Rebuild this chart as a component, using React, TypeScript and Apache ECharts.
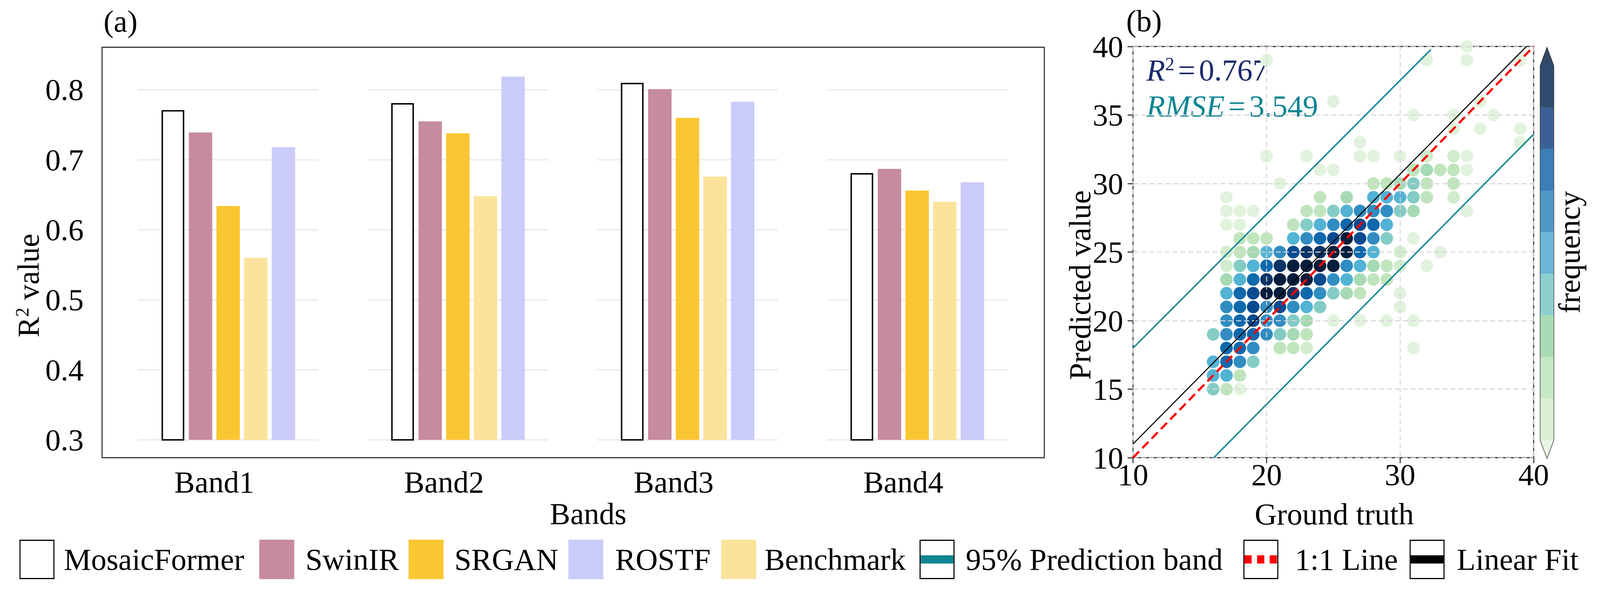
import React, { useEffect, useRef } from "react";
import * as echarts from "echarts";

// ---------------- data: panel (a) ----------------
const BANDS = ["Band1", "Band2", "Band3", "Band4"];
const MOSAICFORMER = [0.770, 0.780, 0.809, 0.680];
const SWINIR = [0.739, 0.755, 0.801, 0.687];
const SRGAN = [0.634, 0.738, 0.760, 0.656];
const BENCHMARK = [0.560, 0.648, 0.676, 0.640];
const ROSTF = [0.718, 0.819, 0.783, 0.668];
const R2_TICKS = [0.3, 0.4, 0.5, 0.6, 0.7, 0.8];
const BAR_BASE = 0.3;

// ---------------- data: panel (b) ----------------
const GT_TICKS = [10, 20, 30, 40];
const PRED_TICKS = [10, 15, 20, 25, 30, 35, 40];
// points [ground truth, predicted], grouped by frequency class (0 = lowest)
const DOTS_L0 = [[35,40],[20,39],[32,39],[35,39],[39,39],[25,36],[36,36],[31,35],[34,35],[37,35],[34,34],[36,34],[39,34],[27,33],[39,33],[20,32],[23,32],[27,32],[28,32],[30,32],[35,32],[24,31],[25,31],[35,31],[21,30],[17,29],[17,28],[18,28],[19,28],[35,28],[17,27],[18,27],[31,26],[33,25],[32,24],[30,22],[30,21],[25,20],[27,20],[29,20],[31,20],[31,18],[18,15]];
const DOTS_L1 = [[32,32],[34,32],[34,29],[17,25],[30,25],[17,24],[30,24],[23,18]];
const DOTS_L2 = [[31,31],[33,31],[34,31],[28,30],[29,30],[32,30],[34,30],[24,29],[32,29],[23,28],[24,28],[22,27],[18,26],[19,26],[20,26],[18,25],[29,24],[28,23],[29,23],[27,22],[23,19],[21,18],[22,18],[18,16],[17,15]];
const DOTS_L3 = [[32,31],[30,30],[26,29],[31,28],[19,25],[28,24],[17,23],[27,23],[26,22],[23,20],[22,19]];
const DOTS_L4 = [[31,30],[31,29],[25,28],[30,28],[23,27],[29,26],[18,24],[25,22],[24,21],[22,20],[16,19],[21,19],[19,17],[16,15]];
const DOTS_L5 = [[28,29],[29,29],[30,29],[26,28],[24,27],[29,27],[22,26],[20,25],[28,25],[19,24],[27,24],[18,23],[26,23],[17,22],[23,21],[16,17],[16,16],[17,16]];
const DOTS_L6 = [[27,28],[28,28],[29,28],[25,27],[23,26],[28,26],[21,25],[26,24],[25,23],[24,22],[17,21],[20,21],[22,21],[17,20],[20,20],[21,20],[17,19],[20,19],[19,18],[18,17]];
const DOTS_L7 = [[26,27],[28,27],[24,26],[27,25],[20,24],[19,23],[18,22],[23,22],[18,21],[18,20],[18,19],[19,19],[17,18],[18,18],[17,17]];
const DOTS_L8 = [[27,27],[25,26],[27,26],[22,25],[24,23],[19,22],[19,21],[21,21],[19,20]];
const DOTS_L9 = [[24,25],[23,25],[21,24],[20,23],[22,22]];
const DOTS_L10 = [[26,26],[25,25],[26,25],[22,24],[23,24],[24,24],[25,24],[21,23],[22,23],[23,23],[20,22],[21,22]];

const ONE_TO_ONE = [[10, 10], [40, 40]];
const FIT_LINE = [[10, 11.0], [39.46, 40]];
const BAND_UPPER = [[10, 18.0], [32.3, 39.77]];
const BAND_LOWER = [[16.05, 10], [40, 33.6]];
const R2_VALUE = "0.767";
const RMSE_VALUE = "3.549";

// ---------------- styles / layout (reference frame 4437 x 1539) ----------------
const REF_W = 4437;
const REF_H = 1539;
const FONT = '"Liberation Serif", "Times New Roman", serif';
const C_SWINIR = "#c68b9f";
const C_SRGAN = "#fac632";
const C_BENCH = "#fbe39b";
const C_ROSTF = "#cbcbfa";
const TEAL = "#0f8593";
const NAVY = "#1b2a6b";
const LEVEL_COLORS = ["#e2f3dd", "#d2edcd", "#c0e5bd", "#a6dab4", "#83ccc5", "#53b3d5", "#318dc1", "#0e69ad", "#0a4a8f", "#0a3366", "#061e3b"];
const COLORBAR_COLORS = ["#2f4864", "#2f4b6e", "#3a6096", "#3c7fb8", "#4f98c6", "#6ab6d8", "#8ecfcf", "#a9dcb5", "#c6e8c2", "#dbf0d6", "#eaf6e6"];

const BAR_PITCH = 0.1203;
const BAR_WIDTH = 0.102;
const GRID_SEG_HALF = 0.393;
const A_X_MIN = -0.489;
const A_X_MAX = 3.614;
const A_Y_MIN = 0.2745;
const A_Y_MAX = 0.8608;

function buildOption(sx: number, sy: number) {
  const s = Math.min(sx, sy);
  const X = (v: number) => v * sx;
  const Y = (v: number) => v * sy;
  const F = (v: number) => v * s;
  const FS = F(85);
  const labelStyle = { fontSize: FS, fontFamily: FONT, color: "#000" };

  const barSeries = (name: string, values: number[], k: number, fill: string, outlined: boolean) => ({
    type: "custom",
    name,
    xAxisIndex: 0,
    yAxisIndex: 0,
    z: 3,
    silent: true,
    data: values.map((v, i) => [i + (k - 1.5) * BAR_PITCH, v]),
    renderItem: (_p: any, api: any) => {
      const xv = api.value(0);
      const yv = api.value(1);
      const p0 = api.coord([xv, BAR_BASE]);
      const p1 = api.coord([xv, yv]);
      const w = api.size([BAR_WIDTH, 0])[0];
      if (outlined) {
        const ow = w - F(6);
        return {
          type: "rect",
          shape: { x: p0[0] - ow / 2, y: p1[1], width: ow, height: p0[1] - p1[1] },
          style: { fill: "#ffffff", stroke: "#000000", lineWidth: F(4) },
        };
      }
      return {
        type: "rect",
        shape: { x: p0[0] - w / 2, y: p1[1], width: w, height: p0[1] - p1[1] },
        style: { fill },
      };
    },
  });

  const lineSeries = (data: number[][], color: string, width: number, dash?: number[]) => ({
    type: "line",
    xAxisIndex: 1,
    yAxisIndex: 1,
    data,
    symbol: "none",
    silent: true,
    clip: true,
    z: 5,
    lineStyle: { color, width: F(width), type: dash ? dash.map(F) : "solid", cap: "butt" },
  });

  const txt = (x: number, y: number, text: string, extra: any = {}, rot = 0) => ({
    type: "text",
    x: X(x),
    y: Y(y),
    rotation: rot,
    style: {
      text,
      fill: "#000",
      font: `${FS}px ${FONT}`,
      fontSize: FS,
      fontFamily: FONT,
      textAlign: "center",
      textVerticalAlign: "middle",
      align: "center",
      verticalAlign: "middle",
      ...extra,
    },
  });
  const rich = (fill: string, italic: boolean) => ({
    m: { fontSize: FS, fontFamily: FONT, lineHeight: FS, fill, fontStyle: italic ? "italic" : "normal" },
    u: { fontSize: FS, fontFamily: FONT, lineHeight: FS, fill },
    s: { fontSize: F(52), fontFamily: FONT, lineHeight: F(50), verticalAlign: "top", fill },
    e: { fontSize: FS, fontFamily: FONT, lineHeight: FS, fill, padding: [0, F(10), 0, F(10)] },
  });

  const g: any[] = [];
  g.push(txt(287, 54, "(a)", { textAlign: "left", align: "left" }));
  g.push(txt(3123, 53, "(b)", { textAlign: "left", align: "left" }));
  g.push(txt(1631, 1315, "Bands"));
  g.push(txt(3700, 1316, "Ground truth"));
  g.push(txt(78, 731, "{u|R}{s|2}{u| value}", { rich: rich("#000", false) }, Math.PI / 2));
  g.push(txt(2995, 730, "Predicted value", {}, Math.PI / 2));
  g.push(txt(4352, 646, "frequency", {}, Math.PI / 2));
  g.push(txt(3179, 179, `{m|R}{s|2}{e|=}{u|${R2_VALUE}}`, { textAlign: "left", align: "left", rich: rich(NAVY, true) }));
  g.push(txt(3179, 271, `{m|RMSE}{e|=}{u|${RMSE_VALUE}}`, { textAlign: "left", align: "left", rich: rich(TEAL, true) }));

  // colorbar
  const cbX = X(4271), cbW = X(38), cbTop = Y(121), cbBot = Y(1174), triH = Y(47);
  const segTop = cbTop + triH, segBot = cbBot - triH;
  const nSeg = COLORBAR_COLORS.length - 2;
  const segH = (segBot - segTop) / nSeg;
  g.push({ type: "polygon", shape: { points: [[cbX, segTop], [cbX + cbW, segTop], [cbX + cbW / 2, cbTop]] }, style: { fill: COLORBAR_COLORS[0] } });
  for (let i = 0; i < nSeg; i++) {
    g.push({ type: "rect", shape: { x: cbX, y: segTop + i * segH, width: cbW, height: segH + 0.5 }, style: { fill: COLORBAR_COLORS[i + 1] } });
  }
  g.push({ type: "polygon", shape: { points: [[cbX, segBot], [cbX + cbW, segBot], [cbX + cbW / 2, cbBot]] }, style: { fill: COLORBAR_COLORS[COLORBAR_COLORS.length - 1] } });
  g.push({
    type: "polygon",
    shape: { points: [[cbX + cbW / 2, cbTop], [cbX + cbW, segTop], [cbX + cbW, segBot], [cbX + cbW / 2, cbBot], [cbX, segBot], [cbX, segTop]] },
    style: { fill: "none", stroke: "#333", lineWidth: F(1.5) },
  });

  // legend
  const items = [
    { label: "MosaicFormer", kind: "outline" },
    { label: "SwinIR", kind: "patch", color: C_SWINIR },
    { label: "SRGAN", kind: "patch", color: C_SRGAN },
    { label: "ROSTF", kind: "patch", color: C_ROSTF },
    { label: "Benchmark", kind: "patch", color: C_BENCH },
    { label: "95% Prediction band", kind: "line", color: TEAL },
    { label: "1:1 Line", kind: "line", color: "#ff0000", dash: [20, 15] },
    { label: "Linear Fit", kind: "line", color: "#000000" },
  ];
  const rectX = [54, 719, 1133, 1576, 2000, 2550, 3448, 3909];
  const textX = [177, 847, 1260, 1706, 2120, 2678, 3591, 4040];
  const ly = 1382, lh = 101, lw = 97;
  items.forEach((it: any, i) => {
    const x = rectX[i];
    if (it.kind === "patch") {
      g.push({ type: "rect", shape: { x: X(x), y: Y(ly), width: X(lw), height: Y(lh) }, style: { fill: it.color } });
    } else {
      g.push({ type: "rect", shape: { x: X(x + 1.5), y: Y(ly + 1.5), width: X(lw - 3), height: Y(lh - 3) }, style: { fill: "#fff", stroke: "#000", lineWidth: F(3) } });
      if (it.kind === "line") {
        g.push({
          type: "line",
          shape: { x1: X(x + 3), y1: Y(ly + lh / 2), x2: X(x + lw - 3), y2: Y(ly + lh / 2) },
          style: { stroke: it.color, lineWidth: F(23), lineDash: it.dash ? it.dash.map(F) : null },
        });
      }
    }
    g.push(txt(textX[i], ly + lh / 2, it.label, { textAlign: "left", align: "left" }));
  });

  const levels = [DOTS_L0, DOTS_L1, DOTS_L2, DOTS_L3, DOTS_L4, DOTS_L5, DOTS_L6, DOTS_L7, DOTS_L8, DOTS_L9, DOTS_L10];
  const gridSegData: number[][] = [];
  BANDS.forEach((_, i) => R2_TICKS.forEach((t) => gridSegData.push([i, t])));
  const dashedGrid = { show: true, lineStyle: { color: "rgba(214,214,214,0.9)", width: F(3), type: [F(14), F(8)] } };
  const tickStyle = { show: true, length: F(15), lineStyle: { color: "#333", width: F(3) } };

  return {
    animation: false,
    backgroundColor: "#ffffff",
    grid: [
      { left: X(283), top: Y(121), width: X(2613), height: Y(1051), show: true, borderColor: "#333", borderWidth: F(3), backgroundColor: "transparent" },
      { left: X(3142), top: Y(119), width: X(1111), height: Y(1053), show: true, borderColor: "#333", borderWidth: F(3), backgroundColor: "transparent" },
    ],
    xAxis: [
      {
        gridIndex: 0, type: "value", min: A_X_MIN, max: A_X_MAX,
        axisLine: { show: false }, axisTick: { show: false }, splitLine: { show: false },
        axisLabel: {
          ...labelStyle, margin: Y(23), lineHeight: FS,
          customValues: BANDS.map((_, i) => i),
          formatter: (v: number) => BANDS[Math.round(v)] ?? "",
        },
      },
      {
        gridIndex: 1, type: "value", min: 10, max: 40, interval: 10, z: 3,
        axisLine: { show: false },
        axisTick: { ...tickStyle, customValues: GT_TICKS },
        axisLabel: { ...labelStyle, margin: Y(4), lineHeight: FS, customValues: GT_TICKS },
        splitLine: dashedGrid,
      },
    ],
    yAxis: [
      {
        gridIndex: 0, type: "value", min: A_Y_MIN, max: A_Y_MAX,
        axisLine: { show: false }, axisTick: { show: false }, splitLine: { show: false },
        axisLabel: { ...labelStyle, margin: X(51), customValues: R2_TICKS, formatter: (v: number) => v.toFixed(1) },
      },
      {
        gridIndex: 1, type: "value", min: 10, max: 40, interval: 5, z: 3,
        axisLine: { show: false },
        axisTick: { ...tickStyle, customValues: PRED_TICKS },
        axisLabel: { ...labelStyle, margin: X(27), customValues: PRED_TICKS },
        splitLine: dashedGrid,
      },
    ],
    series: [
      {
        type: "custom",
        xAxisIndex: 0,
        yAxisIndex: 0,
        z: 1,
        silent: true,
        data: gridSegData,
        renderItem: (_p: any, api: any) => {
          const i = api.value(0);
          const t = api.value(1);
          const c = i + 0.5 * BAR_PITCH;
          const a = api.coord([c - GRID_SEG_HALF, t]);
          const b = api.coord([c + GRID_SEG_HALF, t]);
          return { type: "line", shape: { x1: a[0], y1: a[1], x2: b[0], y2: b[1] }, style: { stroke: "#ebebeb", lineWidth: F(4) } };
        },
      },
      barSeries("MosaicFormer", MOSAICFORMER, 0, "#fff", true),
      barSeries("SwinIR", SWINIR, 1, C_SWINIR, false),
      barSeries("SRGAN", SRGAN, 2, C_SRGAN, false),
      barSeries("Benchmark", BENCHMARK, 3, C_BENCH, false),
      barSeries("ROSTF", ROSTF, 4, C_ROSTF, false),
      ...levels.map((pts, k) => ({
        type: "scatter",
        name: `level${k}`,
        xAxisIndex: 1,
        yAxisIndex: 1,
        data: pts,
        symbol: "circle",
        symbolSize: F(35),
        clip: true,
        silent: true,
        z: 2,
        itemStyle: { color: LEVEL_COLORS[k], opacity: 1 },
      })),
      lineSeries(BAND_UPPER, TEAL, 4),
      lineSeries(BAND_LOWER, TEAL, 4),
      lineSeries(FIT_LINE, "#000", 3),
      lineSeries(ONE_TO_ONE, "#ff0000", 6, [24, 13]),
    ],
    graphic: g,
  };
}

export default function App() {
  const ref = useRef<HTMLDivElement>(null);
  useEffect(() => {
    const el = ref.current;
    if (!el) return;
    const chart = echarts.init(el, undefined, { renderer: "svg" });
    const draw = () => {
      const w = el.clientWidth || REF_W;
      const h = el.clientHeight || REF_H;
      chart.resize();
      chart.setOption(buildOption(w / REF_W, h / REF_H), { notMerge: true });
    };
    draw();
    window.addEventListener("resize", draw);
    return () => {
      window.removeEventListener("resize", draw);
      chart.dispose();
    };
  }, []);
  return (
    <div
      ref={ref}
      style={{ position: "fixed", left: 0, top: 0, width: "100vw", height: "100vh", background: "#fff" }}
    />
  );
}
